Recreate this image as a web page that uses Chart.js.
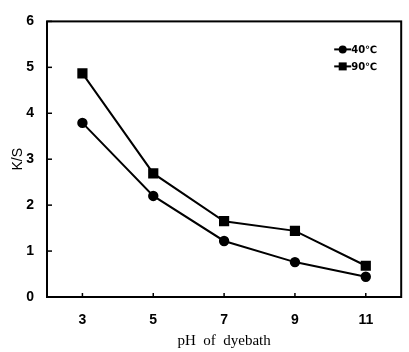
<!DOCTYPE html>
<html>
<head>
<meta charset="utf-8">
<script src="https://cdn.jsdelivr.net/npm/chart.js@4"></script>
<style>
  html, body { margin: 0; padding: 0; background: #fff; }
  #wrap { width: 409px; height: 352px; }
</style>
</head>
<body>
<div id="wrap"><canvas id="chart" width="409" height="352"></canvas></div>
<script>
const phLabels = ['3', '5', '7', '9', '11'];
const ks40 = [3.79, 2.2, 1.22, 0.76, 0.44];
const ks90 = [4.87, 2.69, 1.65, 1.44, 0.68];
const seriesNames = ['40\u2103', '90\u2103'];

// frame, inner tick marks and the legend drawn on top of the chart area
const framePlugin = {
    id: 'frame',
    afterDraw(chart) {
        let ctx = chart.ctx;
        let area = chart.chartArea;
        ctx.save();
        ctx.strokeStyle = '#000';
        ctx.lineWidth = 2;
        ctx.strokeRect(area.left, area.top, area.right - area.left, area.bottom - area.top);

        ctx.lineWidth = 1.5;
        let x = chart.scales.x, y = chart.scales.y;
        x.ticks.forEach((t, i) => {
            let px = x.getPixelForTick(i);
            ctx.beginPath();
            ctx.moveTo(px, area.bottom);
            ctx.lineTo(px, area.bottom - 4);
            ctx.stroke();
        });
        y.ticks.forEach((t, i) => {
            let py = y.getPixelForTick(i);
            ctx.beginPath();
            ctx.moveTo(area.left, py);
            ctx.lineTo(area.left + 5, py);
            ctx.stroke();
        });

        // legend
        let lx = area.right - 67, ly = area.top + 28;
        chart.data.datasets.forEach((ds, i) => {
            let yy = ly + i * 17;
            ctx.lineWidth = 2;
            ctx.beginPath();
            ctx.moveTo(lx, yy);
            ctx.lineTo(lx + 17, yy);
            ctx.stroke();
            ctx.fillStyle = '#000';
            ctx.beginPath();
            if (ds.pointStyle === 'rect') {
                ctx.rect(lx + 4.5, yy - 4, 8, 8);
            } else {
                ctx.arc(lx + 8.5, yy, 4, 0, Math.PI * 2);
            }
            ctx.fill();
            ctx.font = 'bold 10px "DejaVu Sans", sans-serif';
            ctx.textBaseline = 'middle';
            ctx.fillText(ds.label, lx + 17, yy + 1);
        });
        ctx.restore();
    }
};

new Chart(document.getElementById('chart'), {
    type: 'line',
    data: {
        labels: phLabels,
        datasets: [
            {
                label: seriesNames[0],
                data: ks40,
                borderColor: '#000',
                backgroundColor: '#000',
                borderWidth: 2,
                pointStyle: 'circle',
                pointRadius: 4.2,
                tension: 0,
            },
            {
                label: seriesNames[1],
                data: ks90,
                borderColor: '#000',
                backgroundColor: '#000',
                borderWidth: 2,
                pointStyle: 'rect',
                pointRadius: 5.8,
                tension: 0,
            }
        ]
    },
    options: {
        responsive: false,
        animation: false,
        layout: { padding: { top: 10, right: 6, left: 0, bottom: 0 } },
        plugins: {
            legend: { display: false },
            tooltip: { enabled: false },
        },
        scales: {
            x: {
                offset: true,
                grid: { display: false, drawTicks: false },
                border: { display: false },
                ticks: {
                    color: '#000',
                    padding: 15,
                    font: { family: '"Liberation Sans", Arial, sans-serif', size: 14, weight: 'bold' },
                },
                title: {
                    display: true,
                    text: 'pH  of  dyebath',
                    color: '#000',
                    font: { family: '"Liberation Serif", "Times New Roman", serif', size: 15 },
                    padding: { top: 0, bottom: 2 },
                },
                afterFit(scale) { scale.height = 55; },
            },
            y: {
                min: 0,
                max: 6,
                grid: { display: false, drawTicks: false },
                border: { display: false },
                ticks: {
                    stepSize: 1,
                    color: '#000',
                    padding: 13,
                    font: { family: '"Liberation Sans", Arial, sans-serif', size: 14, weight: 'bold' },
                },
                title: {
                    display: true,
                    text: 'K/S',
                    color: '#000',
                    font: { family: '"Liberation Sans", Arial, sans-serif', size: 14 },
                    padding: { top: 10, bottom: 0 },
                },
                afterFit(scale) { scale.width = 47; },
            }
        }
    },
    plugins: [framePlugin]
});
</script>
</body>
</html>
